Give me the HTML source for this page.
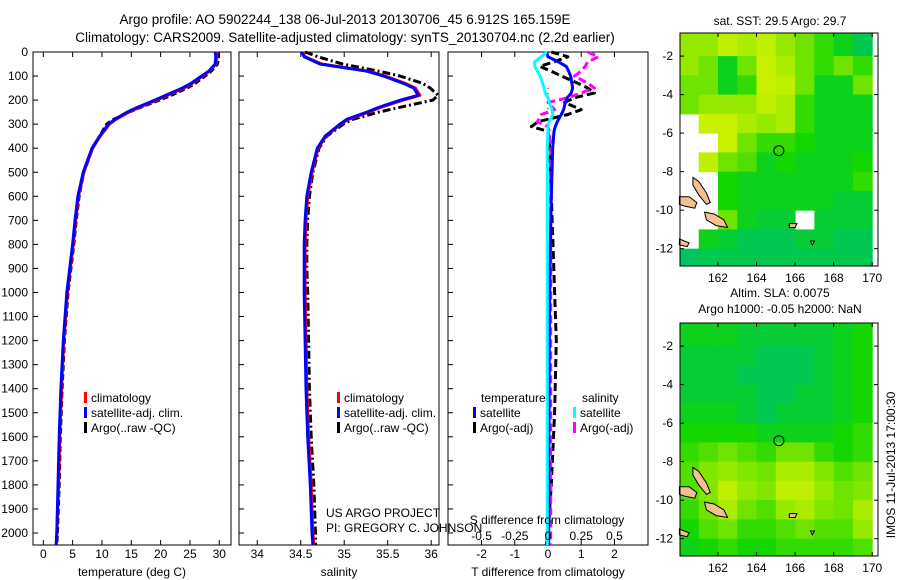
<!DOCTYPE html>
<html><head><meta charset="utf-8"><style>
html,body{margin:0;padding:0;background:#fff;}
svg{display:block;font-family:"Liberation Sans",sans-serif;}
text{fill:#000;}
</style></head><body>
<svg id="fig" width="900" height="580" viewBox="0 0 900 580" xmlns="http://www.w3.org/2000/svg">
<text x="345" y="24" font-size="13.5" text-anchor="middle">Argo profile: AO 5902244_138 06-Jul-2013 20130706_45 6.912S 165.159E</text>
<text x="345" y="42" font-size="13.5" text-anchor="middle">Climatology: CARS2009. Satellite-adjusted climatology: synTS_20130704.nc (2.2d earlier)</text>
<g id="g1"></g>
<g id="g2"></g>
<g id="g3"></g>
<g id="m1"></g>
<g id="m2"></g>
<text transform="translate(895,465) rotate(-90)" font-size="12" text-anchor="middle">IMOS 11-Jul-2013 17:00:30</text>
</svg>
<script>
// ---------- data ----------
const depthTicks=[0,100,200,300,400,500,600,700,800,900,1000,1100,1200,1300,1400,1500,1600,1700,1800,1900,2000];
const tempTicks=[0,5,10,15,20,25,30];
const salTicks=[34,34.5,35,35.5,36];
const salTickLabels=["34","34.5","35","35.5","36"];
const tdiffTicks=[-2,-1,0,1,2];
const sdiffTicks=[-0.5,-0.25,0,0.25,0.5];
const sdiffLabels=["-0.5","-0.25","0","0.25","0.5"];

const profDepth=[0,20,50,80,100,130,150,180,200,230,250,280,300,350,400,500,600,700,800,900,1000,1200,1400,1600,1800,2000,2050];
const tempClim=[29.6,29.6,29.5,28.3,27.2,25.4,24.0,21.2,19.3,16.4,14.6,12.4,11.3,9.7,8.4,6.9,6.0,5.5,5.1,4.6,4.1,3.5,3.1,2.8,2.6,2.3,2.2];
const tempSat=[29.3,29.4,29.3,28.2,27.0,25.2,23.7,20.9,19.0,16.1,14.3,12.2,11.1,9.6,8.3,6.8,5.9,5.4,5.0,4.5,4.0,3.4,3.0,2.7,2.5,2.3,2.2];
const tempArgo=[29.8,29.9,29.7,28.6,27.6,25.9,24.5,21.8,19.8,16.6,14.6,12.0,10.8,9.6,8.4,6.9,6.1,5.6,5.2,4.7,4.2,3.6,3.2,2.9,2.7,2.4,2.3];
const salClim=[34.52,34.55,34.74,35.28,35.47,35.7,35.82,35.87,35.68,35.42,35.28,35.05,34.96,34.79,34.7,34.63,34.58,34.56,34.55,34.55,34.55,34.56,34.57,34.59,34.62,34.64,34.65];
const salSat=[34.51,34.54,34.72,35.26,35.45,35.68,35.8,35.85,35.65,35.4,35.26,35.03,34.95,34.78,34.69,34.62,34.57,34.55,34.54,34.54,34.54,34.55,34.56,34.58,34.61,34.63,34.64];
const salArgo=[34.55,34.7,34.98,35.4,35.64,35.9,35.99,36.08,36.02,35.64,35.4,35.1,34.99,34.8,34.71,34.64,34.6,34.58,34.57,34.57,34.58,34.59,34.6,34.62,34.65,34.67,34.67];

const diffDepth=[0,20,40,60,80,100,130,150,170,190,210,240,260,290,310,330,400,600,800,1000,1200,1500,1800,2000,2050];
const tdiffSat=[-0.04,0.0,0.3,0.55,0.62,0.68,0.72,0.74,0.7,0.58,0.52,0.47,0.4,0.28,0.22,0.18,0.14,0.1,0.07,0.05,0.04,0.03,0.02,0.02,0.02];
const tdiffArgo=[0.1,0.6,0.2,-0.25,0.1,0.4,0.9,1.2,1.4,0.8,0.5,1.0,0.6,-0.3,-0.5,0.0,0.05,0.1,0.15,0.2,0.25,0.2,0.1,0.0,-0.05];
const sdiffSat=[-0.01,-0.05,-0.1,-0.1,-0.08,-0.06,-0.04,-0.03,-0.02,0.0,0.01,0.03,0.035,0.01,0.0,0.0,-0.005,-0.005,-0.005,-0.005,-0.005,-0.005,-0.005,-0.005,-0.005];
const sdiffArgo=[0.3,0.38,0.3,0.28,0.25,0.2,0.3,0.35,0.25,0.15,0.0,0.05,-0.05,-0.08,0.0,0.01,0.02,0.02,0.02,0.02,0.02,0.02,0.02,0.02,0.02];

const mapLonTicks=[162,164,166,168,170];
const mapLatTicks=[-2,-4,-6,-8,-10,-12];
const argoLon=165.159, argoLat=-6.912;
const N=null;
const sstGrid=[
[.7,.7,.8,.75,.8,.7,.6,.5,.4,.3],
[.7,.6,.4,.6,.85,.75,.6,.5,.6,.5],
[.6,.6,.4,.5,.85,.8,.6,.4,.4,.6],
[.6,.7,.7,.7,.8,.75,.5,.4,.4,.4],
[N,.85,.85,.75,.7,.75,.5,.4,.4,.4],
[N,N,.85,.6,.5,.5,.45,.4,.4,.4],
[N,.8,.6,.55,.4,.45,.4,.4,.4,.45],
[N,N,.45,.4,.4,.4,.4,.4,.4,.5],
[N,N,.45,.4,.4,.4,.4,.4,.35,.35],
[N,N,.6,.4,.35,.35,N,.35,.35,.35],
[N,.4,.35,.3,.3,.3,.35,.35,.3,.3],
[.2,.3,.3,.3,.3,.3,.3,.3,.3,.3]];
const slaGrid=[
[.4,.4,.4,.35,.35,.35,.35,.35,.4,.45],
[.35,.35,.35,.35,.3,.3,.3,.35,.4,.45],
[.35,.35,.35,.3,.3,.3,.3,.35,.4,.45],
[.35,.35,.35,.35,.3,.3,.35,.35,.4,.45],
[.4,.4,.4,.35,.3,.35,.35,.35,.4,.45],
[.45,.45,.45,.45,.4,.4,.4,.4,.45,.5],
[.5,.55,.6,.55,.5,.6,.6,.5,.45,.5],
[.55,.65,.7,.65,.6,.75,.75,.65,.55,.6],
[.55,.65,.8,.7,.65,.8,.8,.7,.6,.65],
[.5,.6,.75,.6,.55,.7,.75,.65,.6,.75],
[.45,.55,.6,.5,.5,.55,.6,.55,.55,.7],
[.4,.45,.5,.45,.45,.5,.5,.5,.5,.55]];
const islands=[
 [[160.7,-8.3],[161.0,-8.5],[161.4,-9.1],[161.6,-9.6],[161.4,-9.7],[161.0,-9.2],[160.7,-8.7]],
 [[160.0,-9.3],[160.5,-9.3],[160.9,-9.6],[160.8,-9.9],[160.3,-9.8],[160.0,-9.7]],
 [[161.3,-10.1],[161.8,-10.2],[162.3,-10.5],[162.5,-10.9],[161.9,-10.8],[161.4,-10.5]],
 [[160.0,-11.5],[160.5,-11.7],[160.4,-11.9],[160.0,-11.8]],
 [[165.7,-10.7],[166.1,-10.7],[166.0,-10.9],[165.7,-10.9]],
 [[166.8,-11.6],[167.0,-11.6],[166.9,-11.8]]];

// ---------- helpers ----------
const NS="http://www.w3.org/2000/svg";
function mk(parent,tag,attrs){const e=document.createElementNS(NS,tag);for(const k in attrs)e.setAttribute(k,attrs[k]);parent.appendChild(e);return e;}
function txt(parent,x,y,s,size,anchor){const t=mk(parent,'text',{x:x,y:y,'font-size':size||12,'text-anchor':anchor||'middle'});t.textContent=s;return t;}

const TOP=52,BOT=545;
const yD=d=>TOP+d*0.2405;

function profilePanel(g,x0,x1,xmin,xmax,ticks,labels,xlabel,showDepth){
  const xs=v=>x0+(v-xmin)/(xmax-xmin)*(x1-x0);
  const r=mk(g,'rect',{x:x0,y:TOP,width:x1-x0,height:BOT-TOP,fill:'#fff',stroke:'#000','stroke-width':1});
  
  
  ticks.forEach((t,i)=>{
    const X=xs(t);
    mk(g,'line',{x1:X,x2:X,y1:BOT,y2:BOT-5,stroke:'#000'});
    mk(g,'line',{x1:X,x2:X,y1:TOP,y2:TOP+5,stroke:'#000'});
    const l=txt(g,X,558,labels[i],12);
    
    
  });
  if(showDepth){
    depthTicks.forEach(d=>{
      mk(g,'line',{x1:x0,x2:x0+5,y1:yD(d),y2:yD(d),stroke:'#000'});
      const l=txt(g,28,yD(d)+4,String(d),12,'end');
      
      
    });
  } else {
    depthTicks.forEach(d=>mk(g,'line',{x1:x0,x2:x0+5,y1:yD(d),y2:yD(d),stroke:'#000'}));
  }
  const xl=txt(g,(x0+x1)/2,576,xlabel,12);
  
  
  return xs;
}
function line(g,xs,vals,depths,color,dash,w,name){
  const pts=vals.map((v,i)=>xs(v).toFixed(1)+','+yD(depths[i]).toFixed(1)).join(' ');
  const p=mk(g,'polyline',{points:pts,fill:'none',stroke:color,'stroke-width':w||3,'stroke-linejoin':'round'});
  if(dash)p.setAttribute('stroke-dasharray',dash);
  
  
}
function legendItem(g,x,y,color,label){
  mk(g,'rect',{x:x,y:y-10,width:3,height:11,fill:color});
  const t=txt(g,x+7,y,label,12,'start');
  
  
}

// panel 1
const g1=document.getElementById('g1');
const xT=profilePanel(g1,33,231,-1.76,32,tempTicks,tempTicks.map(String),'temperature (deg C)',true);
line(g1,xT,tempArgo,profDepth,'#000','6,3',3,'argo-temperature-line');
line(g1,xT,tempClim,profDepth,'#f00',null,3,'climatology-temperature-line');
line(g1,xT,tempSat,profDepth,'#00f',null,3,'satellite-temperature-line');
legendItem(g1,84,402,'#f00','climatology');
legendItem(g1,84,417,'#00f','satellite-adj. clim.');
legendItem(g1,84,432,'#000','Argo(..raw -QC)');

// panel 2
const g2=document.getElementById('g2');
const xS=profilePanel(g2,239,439,33.79,36.09,salTicks,salTickLabels,'salinity',false);
line(g2,xS,salArgo,profDepth,'#000','8,3,2,3',3,'argo-salinity-line');
line(g2,xS,salClim,profDepth,'#f00',null,3,'climatology-salinity-line');
line(g2,xS,salSat,profDepth,'#00f',null,3,'satellite-salinity-line');
legendItem(g2,337,402,'#f00','climatology');
legendItem(g2,337,417,'#00f','satellite-adj. clim.');
legendItem(g2,337,432,'#000','Argo(..raw -QC)');

// panel 3
const g3=document.getElementById('g3');
const xTd=profilePanel(g3,448,648,-3.01,3.01,tdiffTicks,tdiffTicks.map(String),'T difference from climatology',false);
const xSd=v=>xTd(v*4);
mk(g3,'line',{x1:xTd(0),x2:xTd(0),y1:yD(150),y2:yD(320),stroke:'#000','stroke-dasharray':'1,4'});
line(g3,xTd,tdiffArgo,diffDepth,'#000','8,4',3,'argo-temperature-diff-line');
line(g3,xSd,sdiffArgo,diffDepth,'#f0f','8,4',3,'argo-salinity-diff-line');
line(g3,xTd,tdiffSat,diffDepth,'#00f',null,3,'satellite-temperature-diff-line');
line(g3,xSd,sdiffSat,diffDepth,'#0ff',null,3,'satellite-salinity-diff-line');
const sl=txt(g3,547,524,'S difference from climatology',12);


sdiffTicks.forEach((t,i)=>{const l=txt(g3,xSd(t),540,sdiffLabels[i],12);
 
 });
txt(g3,481,402,'temperature',12,'start');
legendItem(g3,473,417,'#00f','satellite');
legendItem(g3,473,432,'#000','Argo(-adj)');
txt(g3,582,402,'salinity',12,'start');
legendItem(g3,573,417,'#0ff','satellite');
legendItem(g3,573,432,'#f0f','Argo(-adj)');

// project credits
const c1=txt(document.getElementById('fig'),326,517,'US ARGO PROJECT',12,'start');


const c2=txt(document.getElementById('fig'),326,532,'PI: GREGORY C. JOHNSON',12,'start');



// maps
const stops=[[0,[0,190,130]],[0.3,[0,200,80]],[0.45,[20,215,0]],[0.6,[110,228,0]],[0.8,[190,240,0]],[1,[230,245,0]]];
function col(v){for(let i=1;i<stops.length;i++){if(v<=stops[i][0]){const a=stops[i-1],b=stops[i],f=(v-a[0])/(b[0]-a[0]);
 return 'rgb('+a[1].map((c,k)=>Math.round(c+(b[1][k]-c)*f)).join(',')+')';}}return 'rgb(230,245,0)';}
function drawMap(id,top,grid,titles){
  const g=document.getElementById(id);
  const L=680,R=878,T=top,B=top+233;
  const lonMin=160.03,lonMax=170.3,latTop=-0.8,latBot=-12.9;
  const xs=lo=>L+(lo-lonMin)/(lonMax-lonMin)*(R-L);
  const ys=la=>T+(latTop-la)/(latTop-latBot)*(B-T);
  mk(g,'rect',{x:L,y:T,width:R-L,height:B-T,fill:'#fff'});
  grid.forEach((row,r)=>row.forEach((v,c)=>{
    if(v===null)return;
    const x0=Math.max(L,xs(160+c)),x1=Math.min(R,xs(161+c)),y0=Math.max(T,ys(-1-r)),y1=Math.min(B,ys(-2-r));
    const e=mk(g,'rect',{x:x0,y:r===0?T:y0,width:x1-x0+0.5,height:(r===0?y1-T:y1-y0)+0.5,fill:col(v)});
    
    
  }));
  islands.forEach(poly=>{
    const e=mk(g,'polygon',{points:poly.map(p=>xs(p[0]).toFixed(1)+','+ys(p[1]).toFixed(1)).join(' '),fill:'#f5c090',stroke:'#000','stroke-width':1});
    
    
  });
  const c=mk(g,'circle',{cx:xs(argoLon),cy:ys(argoLat),r:5,fill:'none',stroke:'#000','stroke-width':1});
  
  
  mk(g,'rect',{x:L,y:T,width:R-L,height:B-T,fill:'none',stroke:'#000'});
  mapLonTicks.forEach(lo=>{const X=xs(lo);
    mk(g,'line',{x1:X,x2:X,y1:B,y2:B-4,stroke:'#000'});mk(g,'line',{x1:X,x2:X,y1:T,y2:T+4,stroke:'#000'});
    const l=txt(g,X,B+16,String(lo),12);
    
    });
  mapLatTicks.forEach(la=>{const Y=ys(la);
    mk(g,'line',{x1:L,x2:L+4,y1:Y,y2:Y,stroke:'#000'});mk(g,'line',{x1:R,x2:R-4,y1:Y,y2:Y,stroke:'#000'});
    const l=txt(g,673,Y+4,String(la),12,'end');
    
    });
  titles.forEach((s,i)=>{const t=txt(g,780,titles.length===1?top-8:top-26+i*16,s,12);
    
    });
}
drawMap('m1',33,sstGrid,['sat. SST: 29.5 Argo: 29.7']);
drawMap('m2',323,slaGrid,['Altim. SLA: 0.0075','Argo h1000: -0.05 h2000: NaN']);
</script>
</body></html>
